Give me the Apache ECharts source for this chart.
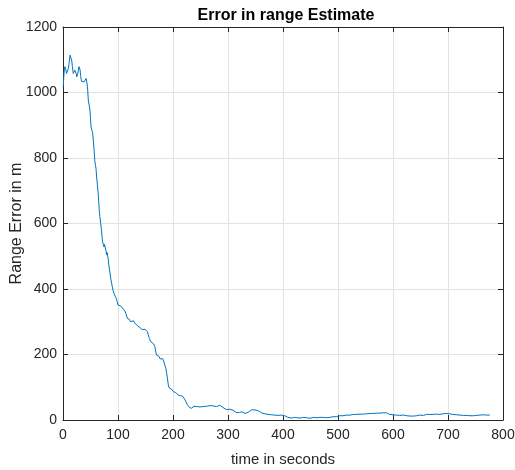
<!DOCTYPE html>
<html>
<head>
<meta charset="utf-8">
<script src="https://cdn.jsdelivr.net/npm/echarts@6/dist/echarts.min.js"></script>
<style>html,body{margin:0;padding:0;background:#fff}#c{width:515px;height:470px}</style>
</head>
<body>
<div id="c"></div>
<script>
var titleText = "Error in range Estimate";
var xLabel = "time in seconds";
var yLabel = "Range Error in m";
var xTicks = [0, 100, 200, 300, 400, 500, 600, 700, 800];
var yTicks = [0, 200, 400, 600, 800, 1000, 1200];

var timeSec = [0.5,1.5,2.5,3.6,5,6.5,8.5,10,11.5,12.7,14,15.8,17,18.7,20,21.5,23,24,25,26.5,28,29,30,31,32,33,34,35.5,37,38.7,40,42,43,44,45,46,47.5,49,50,51,52.5,54,55,56.5,58,59,60,61,62.5,64,65,66,67,68.5,70,71,72,73,74.5,75.5,77,78,79.4,80,81,82,83.5,85.5,87,88.5,89.6,91,93,95,97,98.5,100,101.5,103.6,105,107,108.5,110,111.5,113,115,117,119,121,122.5,124,126,128,130,131,133,134,136,138,140,142,144,146,147.5,149,150.5,152,153.5,155,157,158.5,159.5,161,163,165,167,168.5,170,172,174,176,177,178,179.5,181,183,185,187,188.5,190,191.5,193,194.5,196,197.6,199,201,203.6,205,207,209.6,212,214,215.8,218,220,222,224,226,228,230,232,234,236,238,240,243,246,249,252,255,258,261,264,267,270,273,276,279,282,285,288,291,294,297,300,303,306,309,312,315,318,321,325,328,331,334,337,340,343,346,349,352,355,358,361,364,367,370,373,376,379,382,385,388,391,394,397,400,403,406,409,412,415,418,421,425,428,431,434,437,440,443,446,449,452,455,458,461,464,467,470,473,476,479,482,485,488,491,494,497,500,503,506,509,512,516,519,522,525,528,531,534,537,540,543,546,549,552,555,558,561,564,567,570,573,576,579,582,585,588,591,594,597,600,603,606,609,612,615,619,622,625,628,631,634,637,640,643,646,649,652,655,658,661,664,667,670,673,676,679,682,685,688,691,694,697,700,703,706,709,712,715,718,722,725,728,731,734,737,740,743,746,749,752,755,758,761,764,767,770,773,776];
var rangeError = [1018,1050,1072,1079,1070,1058,1053,1075,1095,1114,1108,1099,1080,1058,1062,1068,1069,1058,1048,1056,1068,1079,1074,1069,1052,1040,1033,1036,1032,1033,1038,1043,1035,1023,1005,977,962,947,920,895,885,875,855,825,789,778,768,745,718,692,665,640,621,600,580,560,544,538,529,536,534,518,504,512,510,494,470,448,430,417,407,395,385,378,370,362,351,354,346,348,342,343,338,335,331,322,310,306,307,300,302,305,303,297,295,291,290,287,286,282,280,276,275,278,277,281,282,270,260,249,244,239,242,244,232,224,210,198,197,195,193,186,183,190,188,180,168,158,143,125,107,98,92,96,94,88,86,81,84,78,76,80,74,76,72,66,61,55,47,41,38,40,36,39,42,38,41,44,40,43,41,39,42,45,44,46,43,40,41,44,45,43,38,35,32,31,33,31,30,26,23,20,23,25,22,20,18,24,28,31,30,31,31,28,25,22,20,19,18,17,17,16,16,15,15,14,15,15,14,13,10,8,7,6,7,8,7,6,6,7,8,8,7,6,5,6,8,9,7,7,8,9,8,7,7,8,8,9,10,11,10,12,13,14,13,14,15,14,15,16,17,17,17,18,18,18,18,19,19,19,20,20,20,20,21,21,21,22,22,21,22,20,17,16,16,16,15,15,14,15,15,14,13,13,12,12,12,12,13,14,15,15,14,15,17,16,17,18,17,18,18,17,17,18,19,19,20,20,19,18,17,16,16,15,15,15,14,14,14,13,13,14,13,14,14,15,15,16,16,15,15,15,15];

var seriesData = timeSec.map(function (t, i) { return [t, rangeError[i]]; });
var axisColor = '#262626';
var gridColor = '#e3e3e3';
var labelFont = 'Liberation Sans, Arial, sans-serif';
var plain = function (v) { return String(v); };

var chart = echarts.init(document.getElementById('c'), null, {renderer: 'canvas'});
chart.setOption({
  animation: false,
  backgroundColor: '#ffffff',
  title: {
    text: titleText,
    left: 281, top: 3, textAlign: 'center',
    textStyle: {fontFamily: labelFont, fontSize: 16, fontWeight: 'bold', color: '#000'}
  },
  grid: {left: 63, right: 12, top: 27, bottom: 50, containLabel: false, outerBoundsMode: 'none'},
  xAxis: [{
    type: 'value', min: xTicks[0], max: xTicks[xTicks.length - 1], interval: 100,
    name: xLabel, nameLocation: 'middle', nameGap: 32, nameMoveOverlap: false,
    nameTextStyle: {fontFamily: labelFont, fontSize: 15, color: axisColor},
    axisLine: {show: true, onZero: false, lineStyle: {color: axisColor, width: 1}},
    axisTick: {show: true, inside: true, length: 5, lineStyle: {color: axisColor}},
    axisLabel: {fontFamily: labelFont, fontSize: 14, color: axisColor, margin: 8, formatter: plain},
    splitLine: {show: true, lineStyle: {color: gridColor, width: 1}}
  }, {
    type: 'value', position: 'top', min: xTicks[0], max: xTicks[xTicks.length - 1], interval: 100,
    axisLine: {show: true, onZero: false, lineStyle: {color: axisColor, width: 1}},
    axisTick: {show: true, inside: true, length: 5, lineStyle: {color: axisColor}},
    axisLabel: {show: false}, splitLine: {show: false}
  }],
  yAxis: [{
    type: 'value', min: yTicks[0], max: yTicks[yTicks.length - 1], interval: 200,
    name: yLabel, nameLocation: 'middle', nameGap: 38, nameMoveOverlap: false,
    nameTextStyle: {fontFamily: labelFont, fontSize: 16, color: axisColor},
    axisLine: {show: true, onZero: false, lineStyle: {color: axisColor, width: 1}},
    axisTick: {show: true, inside: true, length: 5, lineStyle: {color: axisColor}},
    axisLabel: {fontFamily: labelFont, fontSize: 14, color: axisColor, margin: 6, formatter: plain},
    splitLine: {show: true, lineStyle: {color: gridColor, width: 1}}
  }, {
    type: 'value', position: 'right', min: yTicks[0], max: yTicks[yTicks.length - 1], interval: 200,
    axisLine: {show: true, onZero: false, lineStyle: {color: axisColor, width: 1}},
    axisTick: {show: true, inside: true, length: 5, lineStyle: {color: axisColor}},
    axisLabel: {show: false}, splitLine: {show: false}
  }],
  series: [{
    type: 'line', xAxisIndex: 0, yAxisIndex: 0,
    data: seriesData, showSymbol: false, symbol: 'none',
    lineStyle: {color: '#0072BD', width: 1}
  }]
});
</script>
</body>
</html>
